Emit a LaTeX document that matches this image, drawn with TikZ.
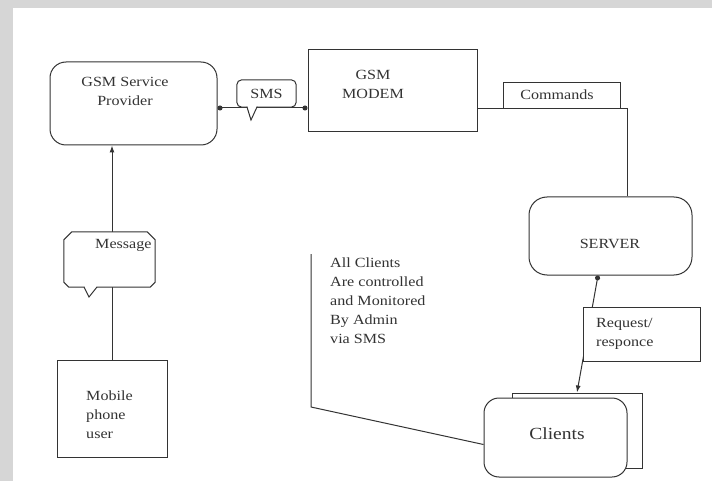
\documentclass[tikz,border=0pt]{standalone}
\usepackage{fontspec}
\setmainfont{Liberation Serif}[FakeStretch=1.15]
\usetikzlibrary{arrows.meta,calc}
\definecolor{bandgray}{HTML}{D6D6D6}
\definecolor{ink}{HTML}{333333}
\tikzset{
  box/.style={draw=ink, line width=1pt, fill=white, inner sep=0pt},
  rbox/.style={box, rounded corners=16pt},
  txt/.style={inner sep=0pt, text=ink, font=\fontsize{14}{19}\selectfont},
  conn/.style={draw=ink, line width=1pt},
  dot/.tip={Circle[length=5pt]},
  head/.tip={Latex[length=7pt,width=5pt]},
}
\begin{document}
\begin{tikzpicture}[x=1pt,y=-1pt]
\fill[bandgray] (0,0) rectangle (712,481);
\fill[white] (13,8) rectangle (712,481);
\useasboundingbox (0,0) rectangle (712,481);

% nodes (shapes)
\node[rbox, minimum width=167pt, minimum height=83pt] (prov) at (133.5,103.5) {};
\node[box, minimum width=169pt, minimum height=82pt] (modem) at (392.5,91) {};
\node[rbox, rounded corners=18pt, minimum width=163pt, minimum height=78pt] (srv) at (610.5,236) {};
\node[box, minimum width=110pt, minimum height=97pt] (mob) at (112,408.5) {};
\node[box, minimum width=130pt, minimum height=75pt] (cback) at (577,430.5) {};
\node[rbox, rounded corners=15pt, minimum width=143pt, minimum height=79pt] (cfront) at (555.5,437.5) {};

% connectors
\draw[conn, -head] (mob.north) -- (mob.north |- prov.south);
\draw[conn, dot-dot] ([yshift=-4.5pt]prov.east) -- ([yshift=-4.5pt]prov.east -| modem.west);
\draw[conn] ([yshift=-18pt]modem.east) -| ([xshift=16.5pt]srv.north);
\draw[conn, dot-head] ([xshift=-12.5pt]srv.south) -- (cback.north);
\coordinate (adm1) at (311,254);
\coordinate (adm2) at (311,407);
\draw[conn] (adm1) -- (adm2) -- ([yshift=-7pt]cfront.west);

% message callout
\node[inner sep=0pt, minimum width=91pt, minimum height=55pt] (msgc) at (109.5,259.5) {};
\filldraw[box] (msgc.north west) ++(0,8) -- ++(8,-8) -- ($(msgc.north east)+(-8,0)$) -- ++(8,8)
  -- ($(msgc.south east)+(0,-5)$) -- ++(-5,5) -- (97,287) -- (89,297) -- (84,287)
  -- ($(msgc.south west)+(5,0)$) -- ++(-5,-5) -- cycle;

% SMS callout
\node[inner sep=0pt, minimum width=59pt, minimum height=27pt] (smsc) at (266.5,93.5) {};
\filldraw[box] ($(smsc.south west)+(0,-5)$) -- ($(smsc.north west)+(0,5)$) arc[start angle=180,end angle=90,radius=5pt]
  -- ($(smsc.north east)+(-5,0)$) arc[start angle=90,end angle=0,radius=5pt]
  -- ($(smsc.south east)+(0,-5)$) arc[start angle=0,end angle=-90,radius=5pt]
  -- (257,107) -- (251,120) -- (247,107)
  -- ($(smsc.south west)+(5,0)$) arc[start angle=270,end angle=180,radius=5pt] -- cycle;

% commands box
\node[box, minimum width=117pt, minimum height=26pt] (cmd) at (561.5,96) {};

% request box
\node[box, minimum width=117pt, minimum height=54pt] (req) at (641.5,334) {};

% texts
\node[txt, align=center] (tprov) at (125,91) {GSM Service\\Provider};
\node[txt, align=center] (tmodem) at (373,84.5) {GSM\\MODEM};
\node[txt] (tsms) at (smsc.center) {SMS};
\node[txt] (tcmd) at (557,95) {Commands};
\node[txt] (tsrv) at (610,244) {SERVER};
\node[txt, anchor=west] (tmsg) at (95,245) {Message};
\node[txt, anchor=west, align=left] (tmob) at (86,415) {Mobile\\phone\\user};
\node[txt, anchor=west, align=left] (treq) at (596,333.5) {Request/\\responce};
\node[txt, anchor=west, align=left] (tadm) at (330,301) {All Clients\\Are controlled\\and Monitored\\By Admin\\via SMS};
\node[txt, font=\fontsize{17}{20}\selectfont] (tcli) at (557,434) {Clients};
\end{tikzpicture}
\end{document}
